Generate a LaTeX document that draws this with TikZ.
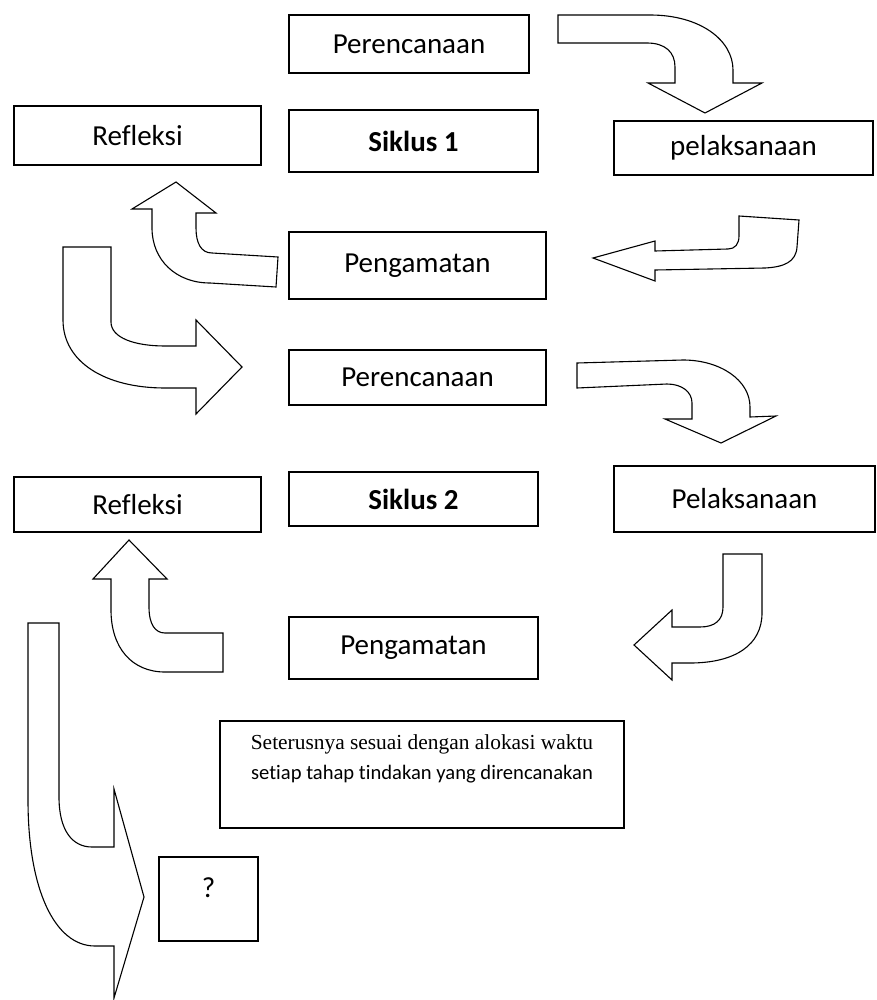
\documentclass[tikz,border=0pt]{standalone}
\usepackage{fontspec}
\setmainfont{Carlito}[Ligatures=NoCommon]
\newfontfamily\serifpart{Liberation Serif}
\tikzset{
  box/.style={draw, line width=1.3pt, inner sep=0pt},
  bent/.style={draw, line width=1.1pt, fill=white, line join=miter},
}
\begin{document}
\begin{tikzpicture}[x=1pt, y=-1pt, font=\fontsize{29}{35}\selectfont]
    \useasboundingbox (0, 0) rectangle (876, 1000);
    \node [box, minimum width=240, minimum height=58] (perencanaan1) at (409, 44) {Perencanaan};
    \node [box, minimum width=247, minimum height=59] (refleksi1) at (137.5, 135.5) {Refleksi};
    \node [box, minimum width=249, minimum height=62] (siklus1) at (413.5, 141) {\textbf{Siklus 1}};
    \node [box, minimum width=259, minimum height=54] (pelaksanaan1) at (743.5, 148) {pelaksanaan};
    \node [box, minimum width=257, minimum height=67] (pengamatan1) at (417.5, 265.5) {Pengamatan};
    \node [box, minimum width=257, minimum height=55] (perencanaan2) at (417.5, 377.5) {Perencanaan};
    \node [box, minimum width=247, minimum height=55] (refleksi2) at (137.5, 504.5) {Refleksi};
    \node [box, minimum width=249, minimum height=54] (siklus2) at (413.5, 499) {\textbf{Siklus 2}};
    \node [box, minimum width=261, minimum height=66] (pelaksanaan2) at (744.5, 499) {Pelaksanaan};
    \node [box, minimum width=249, minimum height=62] (pengamatan2) at (413.5, 648) {Pengamatan};
    \node [box] (lanjut) at (422, 774.5) {\parbox[c][107pt][t]{404pt}{\centering\fontsize{21}{30}\selectfont
      \vspace*{14pt}{\serifpart\fontsize{21.4}{30}\selectfont Seterusnya sesuai dengan alokasi waktu}\\
      {\fontsize{20.6}{30}\selectfont setiap tahap tindakan yang direncanakan}}};
    \node [box, minimum width=99, minimum height=84, text height=18pt, text depth=22pt] (tanya) at (208.5, 899) {?};
    \draw [bent] (558, 15) -- (650, 15) .. controls (700, 15) and (733, 40) .. (733, 70) -- (733, 83) -- (762, 83) -- (705, 113) -- (648, 83) -- (675, 83) -- (675, 67) .. controls (675, 52) and (665, 43) .. (647, 43) -- (558, 43) -- cycle;
    \draw [bent] (593, 258) -- (655, 241) -- (655, 251) -- (728, 249) .. controls (735, 249) and (739, 244) .. (739, 236) -- (739, 216) -- (799, 220) -- (797, 247) .. controls (796, 262) and (784, 267) .. (765, 268) -- (655, 270) -- (655, 281) -- cycle;
    \draw [bent] (176, 182) -- (216, 213) -- (196, 213) -- (196, 228) .. controls (196, 243) and (201, 253) .. (212, 253) -- (278, 257) -- (276, 287) -- (210, 283) .. controls (176, 283) and (152, 260) .. (152, 228) -- (152, 209) -- (132, 209) -- cycle;
    \draw [bent] (63, 247) -- (111, 247) -- (111, 322) .. controls (111, 338) and (135, 346) .. (165, 346) -- (196, 346) -- (196, 320) -- (242, 367) -- (196, 414) -- (196, 388) -- (165, 388) .. controls (105, 388) and (63, 362) .. (63, 320) -- cycle;
    \draw [bent] (577, 363) -- (683, 360) .. controls (720, 360) and (750, 380) .. (750, 407) -- (750, 417) -- (776, 416) -- (721, 443) -- (665, 419) -- (692, 419) -- (692, 403) .. controls (692, 392) and (682, 384) .. (667, 384) -- (577, 388) -- cycle;
    \draw [bent] (723, 554) -- (762, 554) -- (762, 613) .. controls (762, 645) and (735, 663) .. (690, 663) -- (672, 663) -- (672, 680) -- (634, 645) -- (672, 610) -- (672, 627) -- (700, 627) .. controls (715, 627) and (723, 620) .. (723, 607) -- cycle;
    \draw [bent] (129, 540) -- (167, 579) -- (149, 579) -- (149, 607) .. controls (149, 624) and (155, 633) .. (165, 633) -- (223, 633) -- (223, 672) -- (165, 672) .. controls (132, 672) and (111, 648) .. (111, 610) -- (111, 579) -- (93, 579) -- cycle;
    \draw [bent] (28, 623) -- (59, 623) -- (59, 797) .. controls (59, 830) and (72, 847) .. (92, 847) -- (114, 847) -- (114, 789) -- (144, 897) -- (114, 998) -- (114, 946) -- (95, 946) .. controls (55, 946) and (28, 890) .. (28, 800) -- cycle;
  \end{tikzpicture}
\end{document}
